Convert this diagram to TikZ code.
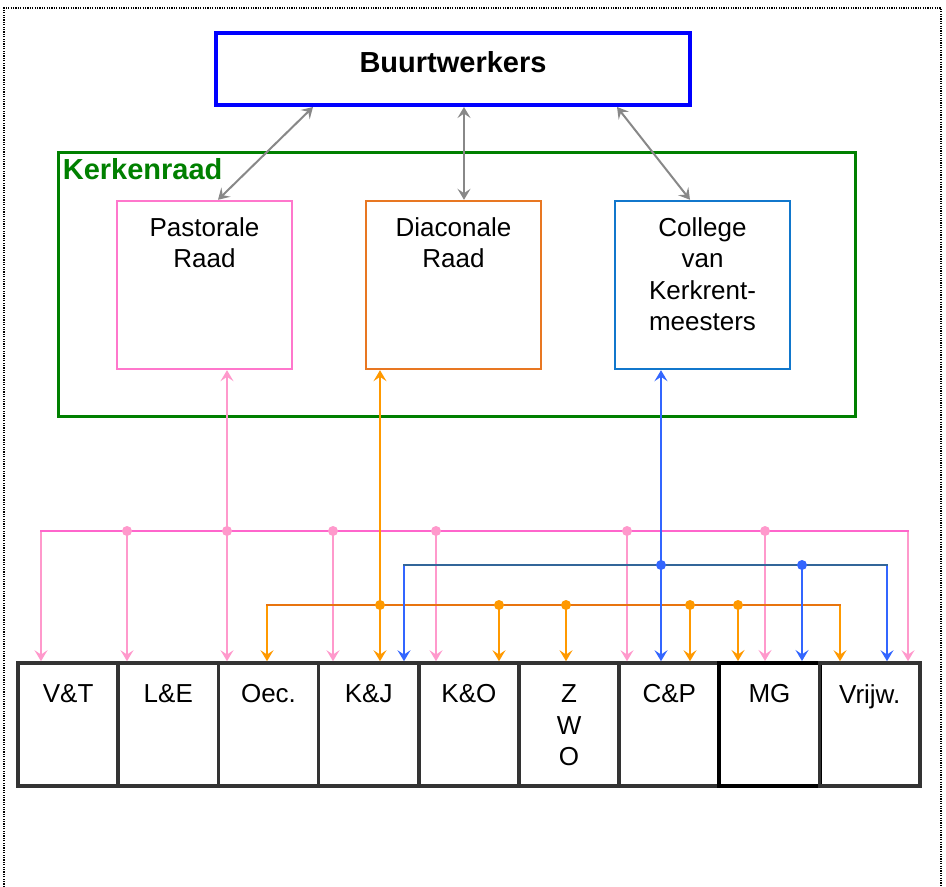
\documentclass[tikz,border=0pt]{standalone}
\usepackage{fontspec}
\setmainfont{Liberation Sans}
\usetikzlibrary{arrows.meta,calc,positioning}

\definecolor{buurtblauw}{HTML}{0000FF}
\definecolor{kerkgroen}{HTML}{008000}
\definecolor{roze}{HTML}{FF77CC}
\definecolor{rozelijn}{HTML}{FF99CC}
\definecolor{rozebus}{HTML}{FF66CC}
\definecolor{oranje}{HTML}{E87722}
\definecolor{oranjelijn}{HTML}{FF9900}
\definecolor{oranjebus}{HTML}{E8740F}
\definecolor{collegeblauw}{HTML}{1177CC}
\definecolor{blauwlijn}{HTML}{3366FF}
\definecolor{blauwbus}{HTML}{336699}
\definecolor{celrand}{HTML}{333333}
\definecolor{grijs}{HTML}{888888}

\begin{document}
\begin{tikzpicture}[
  x=0.5pt, y=-0.5pt,
  font=\fontsize{13}{15.8}\selectfont,
  pijl/.tip={Stealth[length=5.5pt, width=6.5pt, inset=2.2pt]},
  raad/.style={draw, line width=1.2pt, minimum width=87.5pt, minimum height=84pt, inner sep=0pt},
  cel/.style={draw=celrand, line width=1.8pt, minimum width=50.1pt, minimum height=61.5pt, inner sep=0pt},
  celmg/.style={cel, draw=black, line width=2pt},
  lbl/.style={anchor=north, align=center, inner sep=0pt},
  bus/.style={line width=1pt, line cap=rect},
  tak/.style={line width=1pt, -pijl}
]
\useasboundingbox (0,0) rectangle (946,887);

% gestippelde rand
\draw[dash pattern=on 0.6pt off 0.6pt, line width=0.6pt] (4,887) -- (4,8) -- (941,8) -- (941,887);

% Buurtwerkers en Kerkenraad
\node[draw=buurtblauw, line width=2pt, minimum width=237pt, minimum height=36pt,
  label={[lbl, yshift=-10pt, font=\fontsize{14.5}{17}\selectfont\bfseries]north:Buurtwerkers}] (buurt) at (453,69) {};
\node[draw=kerkgroen, line width=1.5pt, minimum width=398.5pt, minimum height=131.5pt,
  label={[anchor=north west, inner sep=0pt, xshift=3pt, yshift=-3.5pt, text=kerkgroen,
  font=\fontsize{14.5}{17}\selectfont\bfseries]north west:Kerkenraad}] (kerkenraad) at (456.5,284.5) {};

% de drie raden
\node[raad, draw=roze, label={[lbl, yshift=-8.5pt]north:Pastorale\\Raad}] (pastoraal) at (204.5,285) {};
\node[raad, draw=oranje, label={[lbl, yshift=-8.5pt]north:Diaconale\\Raad}] (diaconaal) at (453.5,285) {};
\node[raad, draw=collegeblauw, label={[lbl, yshift=-8.5pt]north:College\\van\\Kerkrent-\\meesters}] (college) at (702.5,285) {};

% grijze pijlen naar Buurtwerkers
\draw[grijs, line width=1pt, pijl-pijl] ($(buurt.south)+(-140,0)$) -- ($(pastoraal.north)+(13.5,0)$);
\draw[grijs, line width=1pt, pijl-pijl] ($(buurt.south)+(11,0)$) -- ($(diaconaal.north)+(10.5,0)$);
\draw[grijs, line width=1pt, pijl-pijl] ($(buurt.south)+(164,0)$) -- ($(college.north)+(-12.5,0)$);

% onderste rij taakgroepen
\foreach \naam/\tekst/\stijl [count=\i] in {vt/V\&T/cel, le/L\&E/cel, oec/Oec./cel, kj/K\&J/cel,
    ko/K\&O/cel, zwo/{Z\\W\\O}/cel, cp/C\&P/cel, mg/MG/celmg, vrij/Vrijw./cel}
  \node[\stijl, label={[lbl, yshift=-11.5pt]north:\tekst}] (\naam) at ({18+100.2*(\i-0.5)}, 724.5) {};

% roze lijnen (Pastorale Raad)
\foreach \x/\doel [count=\i] in {41/vt, 127/le, 227/oec, 333/kj, 436/ko, 627/cp, 765/mg, 908/vrij} {
  \coordinate (r\i) at (\x,531);
  \draw[tak, rozelijn] (r\i) -- (r\i |- \doel.north);
}
\draw[bus, rozebus] (r1) -- (r8);
\draw[tak, rozelijn] (r3) -- (r3 |- pastoraal.south);

% oranje lijnen (Diaconale Raad)
\foreach \x/\doel [count=\i] in {267/oec, 380/kj, 499/ko, 566/zwo, 690/cp, 738/mg, 840/vrij} {
  \coordinate (o\i) at (\x,605);
  \draw[tak, oranjelijn] (o\i) -- (o\i |- \doel.north);
}
\draw[bus, oranjebus] (o1) -- (o7);
\draw[tak, oranjelijn] (o2) -- (o2 |- diaconaal.south);

% blauwe lijnen (College van Kerkrentmeesters)
\foreach \x/\doel [count=\i] in {404/kj, 661/cp, 802/mg, 887/vrij} {
  \coordinate (b\i) at (\x,565);
  \draw[tak, blauwlijn] (b\i) -- (b\i |- \doel.north);
}
\draw[bus, blauwbus] (b1) -- (b4);
\draw[tak, blauwlijn] (b2) -- (b2 |- college.south);

% knooppunten
\foreach \p in {r2, r3, r4, r5, r6, r7}
  \fill[rozelijn] (\p) circle[radius=2.5pt];
\foreach \p in {o2, o3, o4, o5, o6}
  \fill[oranjelijn] (\p) circle[radius=2.5pt];
\foreach \p in {b2, b3}
  \fill[blauwlijn] (\p) circle[radius=2.5pt];

\end{tikzpicture}
\end{document}
